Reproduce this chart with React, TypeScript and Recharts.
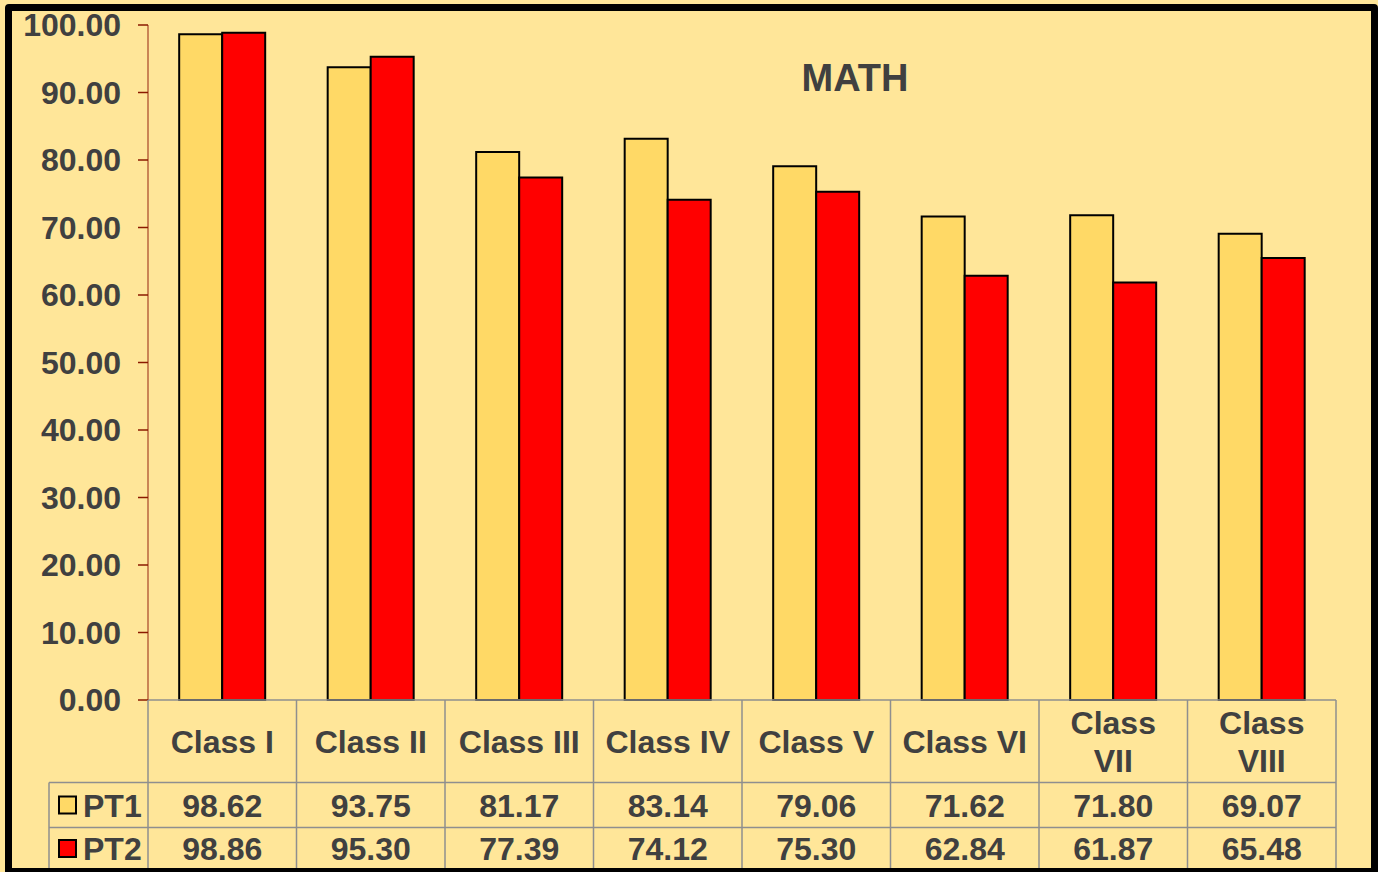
import React from "react";
import { BarChart, Bar, XAxis, YAxis, Customized } from "recharts";

const categories = ["Class I", "Class II", "Class III", "Class IV", "Class V", "Class VI", "Class VII", "Class VIII"];
const pt1 = [98.62, 93.75, 81.17, 83.14, 79.06, 71.62, 71.8, 69.07];
const pt2 = [98.86, 95.3, 77.39, 74.12, 75.3, 62.84, 61.87, 65.48];
const seriesNames = ["PT1", "PT2"];
const seriesValues = [pt1, pt2];
const yTicks = [0, 10, 20, 30, 40, 50, 60, 70, 80, 90, 100];
const chartTitle = "MATH";

const BG = "#FFE699";
const COLORS = ["#FFD966", "#FF0000"];
const TEXT = "#404040";
const GRID = "#8F8F8F";
const FONT = "'Liberation Sans', Arial, sans-serif";
const FS = 32;

const data = categories.map((c, i) => ({ name: c, PT1: pt1[i], PT2: pt2[i] }));

const CatTick = (props: any) => {
  const { x, y, payload } = props;
  const idx: number = payload.index;
  const half: number = payload.offset && payload.offset > 0 ? payload.offset : 74.25;
  const left = x - half;
  const right = x + half;
  const label: string = categories[idx];
  const words = label.split(" ");
  const lines = label.length > 9 || label === "Class VII" ? words : [label];
  const row1 = y + 82.5;
  const row2 = y + 127.5;
  const bottom = y + 172;
  const fs = FS;
  const els: any[] = [];
  els.push(<line key="vl" x1={left} y1={y} x2={left} y2={bottom} stroke={GRID} strokeWidth={1.5} />);
  if (idx === categories.length - 1) {
    els.push(<line key="vr" x1={right} y1={y} x2={right} y2={bottom} stroke={GRID} strokeWidth={1.5} />);
  }
  els.push(<line key="h1" x1={left} y1={row1} x2={right} y2={row1} stroke={GRID} strokeWidth={1.5} />);
  els.push(<line key="h2" x1={left} y1={row2} x2={right} y2={row2} stroke={GRID} strokeWidth={1.5} />);
  if (lines.length === 1) {
    els.push(
      <text key="c" x={x} y={y + 41 + fs * 0.36} textAnchor="middle" fontSize={fs} fontWeight="bold" fill={TEXT} fontFamily={FONT}>
        {lines[0]}
      </text>
    );
  } else {
    lines.forEach((l, k) => {
      els.push(
        <text key={"c" + k} x={x} y={y + 22.5 + k * 37.5 + fs * 0.36} textAnchor="middle" fontSize={fs} fontWeight="bold" fill={TEXT} fontFamily={FONT}>
          {l}
        </text>
      );
    });
  }
  seriesValues.forEach((vals, s) => {
    const cy = s === 0 ? y + 105 : y + 148.5;
    els.push(
      <text key={"v" + s} x={x} y={cy + fs * 0.36} textAnchor="middle" fontSize={fs} fontWeight="bold" fill={TEXT} fontFamily={FONT}>
        {vals[idx].toFixed(2)}
      </text>
    );
  });
  if (idx === 0) {
    const lx = 49;
    els.push(<line key="lv" x1={lx} y1={row1} x2={lx} y2={bottom} stroke={GRID} strokeWidth={1.5} />);
    els.push(<line key="lh1" x1={lx} y1={row1} x2={left} y2={row1} stroke={GRID} strokeWidth={1.5} />);
    els.push(<line key="lh2" x1={lx} y1={row2} x2={left} y2={row2} stroke={GRID} strokeWidth={1.5} />);
    seriesNames.forEach((n, s) => {
      const cy = s === 0 ? y + 105 : y + 148.5;
      els.push(<rect key={"lk" + s} x={59} y={cy - 8.5} width={17} height={17} fill={COLORS[s]} stroke="#000" strokeWidth={2} />);
      els.push(
        <text key={"ln" + s} x={83} y={cy + fs * 0.36} textAnchor="start" fontSize={fs} fontWeight="bold" fill={TEXT} fontFamily={FONT}>
          {n}
        </text>
      );
    });
  }
  return <g>{els}</g>;
};

const Title = () => (
  <text x={855} y={91} textAnchor="middle" fontSize={38} fontWeight="bold" fill={TEXT} fontFamily={FONT}>
    {chartTitle}
  </text>
);

export default function App() {
  return (
    <div style={{ position: "absolute", left: 0, top: 0, width: 1378, height: 872, background: BG, overflow: "hidden" }}>
      <BarChart
        width={1378}
        height={872}
        data={data}
        margin={{ top: 25, right: 42, left: 48, bottom: 0 }}
        barCategoryGap="21%"
        barGap={0}
      >
        <XAxis
          dataKey="name"
          height={172}
          tickSize={0}
          tickMargin={0}
          tickLine={false}
          interval={0}
          axisLine={{ stroke: GRID, strokeWidth: 1.5 }}
          tick={<CatTick />}
        />
        <YAxis
          width={100}
          domain={[0, 100]}
          ticks={yTicks}
          interval={0}
          tickSize={10}
          tickMargin={17}
          axisLine={{ stroke: "#B8643F", strokeWidth: 1.5 }}
          tickLine={{ stroke: "#8B1A00", strokeWidth: 1.5 }}
          tickFormatter={(v: number) => v.toFixed(2)}
          tick={{ fontSize: FS, fontWeight: "bold", fill: TEXT, fontFamily: FONT }}
        />
        <Bar dataKey="PT1" fill={COLORS[0]} stroke="#000" strokeWidth={2} isAnimationActive={false} />
        <Bar dataKey="PT2" fill={COLORS[1]} stroke="#000" strokeWidth={2} isAnimationActive={false} />
        <Customized component={<Title />} />
      </BarChart>
      <div
        style={{
          position: "absolute",
          left: 5,
          top: 4,
          width: 1373,
          height: 871,
          border: "7px solid #000",
          borderRadius: 4,
          boxSizing: "border-box",
          pointerEvents: "none",
        }}
      />
    </div>
  );
}
